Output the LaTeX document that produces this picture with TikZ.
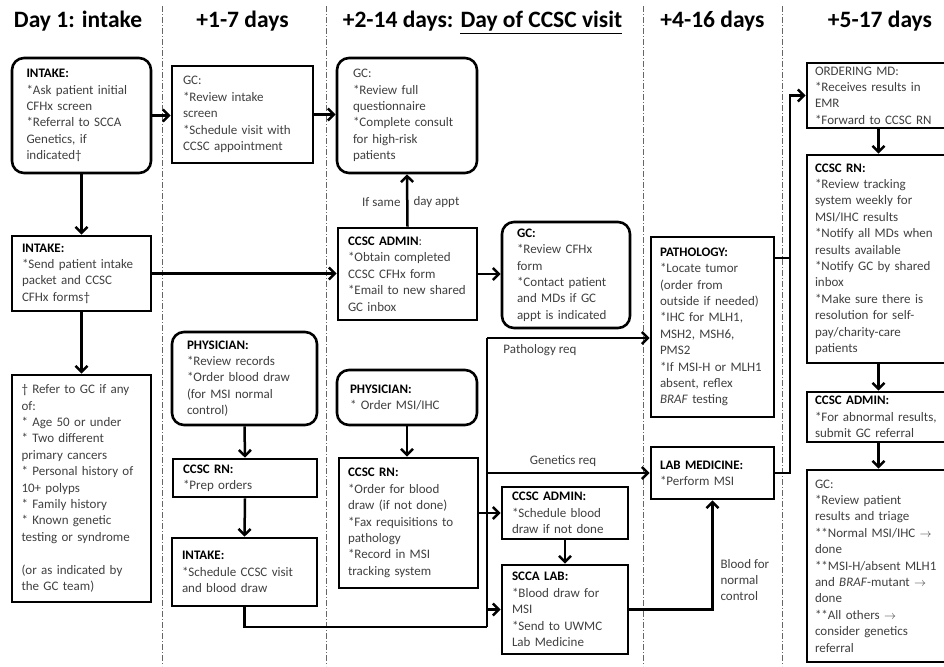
\documentclass[tikz,border=0pt]{standalone}
\usepackage{fontspec}
\setmainfont{Carlito}
\usepackage{tikz}
\usetikzlibrary{arrows.meta}

\newcommand{\boxhead}[1]{\textcolor{black}{\textbf{#1}}}
\newcommand{\toarr}{\ensuremath{\rightarrow}}

\begin{document}
\begin{tikzpicture}[x=1pt,y=-1pt,
  txt/.style={font=\fontsize{13}{16.4}\selectfont, text=black!75},
  sbox/.style={txt, draw=black, line width=2.6pt, align=left, inner xsep=3pt, inner ysep=3pt},
  rbox/.style={sbox, rounded corners=12pt},
  conn/.style={line width=2.5pt, -{Straight Barb[length=6pt,width=12pt]}},
  wire/.style={line width=2.5pt},
  colsep/.style={black!60, line width=0.8pt, dash pattern=on 6pt off 2pt on 1pt off 2pt},
  ttl/.style={font=\fontsize{23.5}{27}\selectfont\bfseries, anchor=base}]
\fill[white] (0,0) rectangle (944,666);
\useasboundingbox (0,0) rectangle (944,666);

% columns
\foreach \sx in {162,326,643,782}
  \draw[colsep] (\sx,6) -- (\sx,666);
\node[ttl] (tDay) at (78,28) {Day 1: intake};
\node[ttl] (tOne) at (242.5,28) {+1-7 days};
\node[ttl] (tTwo) at (482.5,28) {+2-14 days: \underline{Day of CCSC visit}};
\node[ttl] (tFour) at (712.5,28) {+4-16 days};
\node[ttl] (tFive) at (880,28) {+5-17 days};

% day 1
\node[rbox, minimum width=139, minimum height=115, text width=110] (intakeA) at (81.5,115.5)
  {\boxhead{INTAKE:}\\{}*Ask patient initial\\CFHx screen\\{}*Referral to SCCA\\Genetics, if\\indicated\textdagger};
\node[sbox, minimum width=139, minimum height=75, text width=119] (intakeB) at (81.5,273.5)
  {\boxhead{INTAKE:}\\{}*Send patient intake\\packet and CCSC\\CFHx forms\textdagger};
\node[sbox, minimum width=139, minimum height=227, text width=120] (note) at (81.5,488.5)
  {\textdagger{} Refer to GC if any\\of:\\{}* Age 50 or under\\{}* Two different\\primary cancers\\{}* Personal history of\\10+ polyps\\{}* Family history\\{}* Known genetic\\testing or syndrome\\[16.4pt](or as indicated by\\the GC team)};

% +1-7 days
\node[sbox, minimum width=141, minimum height=97, text width=119] (gcA) at (242.5,114.5)
  {GC:\\{}*Review intake\\screen\\{}*Schedule visit with\\CCSC appointment};
\node[rbox, minimum width=145, minimum height=93, text width=115] (physA) at (244.5,378.5)
  {\boxhead{PHYSICIAN:}\\{}*Review records\\{}*Order blood draw\\(for MSI normal\\control)};
\node[sbox, minimum width=144, minimum height=38, text width=124] (rnA) at (245,478)
  {\boxhead{CCSC RN:}\\{}*Prep orders};
\node[sbox, minimum width=145, minimum height=68, text width=125] (intakeC) at (244.5,572)
  {\boxhead{INTAKE:}\\{}*Schedule CCSC visit\\and blood draw};

% +2-14 days
\node[rbox, minimum width=140, minimum height=115, text width=108] (gcB) at (407,115.5)
  {GC:\\{}*Review full\\questionnaire\\{}*Complete consult\\for high-risk\\patients};
\node[sbox, minimum width=139, minimum height=92, text width=119] (adminA) at (407.5,274)
  {\boxhead{CCSC ADMIN}:\\{}*Obtain completed\\CCSC CFHx form\\{}*Email to new shared\\GC inbox};
\node[rbox, minimum width=128, minimum height=106, text width=98] (gcC) at (566,275)
  {\boxhead{GC:}\\{}*Review CFHx\\form\\{}*Contact patient\\and MDs if GC\\appt is indicated};
\node[rbox, minimum width=140, minimum height=55, text width=114] (physB) at (407,397.5)
  {\boxhead{PHYSICIAN:}\\{}* Order MSI/IHC};
\node[sbox, minimum width=139, minimum height=130, text width=121] (rnB) at (408.5,523)
  {\boxhead{CCSC RN:}\\{}*Order for blood\\draw (if not done)\\{}*Fax requisitions to\\pathology\\{}*Record in MSI\\tracking system};
\node[sbox, minimum width=126, minimum height=52, text width=106] (adminB) at (565,513)
  {\boxhead{CCSC ADMIN:}\\{}*Schedule blood\\draw if not done};
\node[sbox, minimum width=126, minimum height=89, text width=106] (sccaA) at (565,609.5)
  {\boxhead{SCCA LAB:}\\{}*Blood draw for\\MSI\\{}*Send to UWMC\\Lab Medicine};

% +4-16 days
\node[sbox, minimum width=123, minimum height=180, text width=105] (path) at (712.5,327)
  {\boxhead{PATHOLOGY:}\\{}*Locate tumor\\(order from\\outside if needed)\\{}*IHC for MLH1,\\MSH2, MSH6,\\PMS2\\{}*If MSI-H or MLH1\\absent, reflex\\\textit{BRAF} testing};
\node[sbox, minimum width=123, minimum height=52, text width=105] (labmed) at (712.5,473)
  {\boxhead{LAB MEDICINE:}\\{}*Perform MSI};

% +5-17 days
\node[sbox, minimum width=143, minimum height=65, text width=127] (ordmd) at (878.5,95.5)
  {ORDERING MD:\\{}*Receives results in\\EMR\\{}*Forward to CCSC RN};
\node[sbox, minimum width=143, minimum height=208, text width=127] (rnC) at (878.5,259)
  {\boxhead{CCSC RN:}\\{}*Review tracking\\system weekly for\\MSI/IHC results\\{}*Notify all MDs when\\results available\\{}*Notify GC by shared\\inbox\\{}*Make sure there is\\resolution for self-\\pay/charity-care\\patients};
\node[sbox, minimum width=143, minimum height=50, text width=127] (adminC) at (878.5,417)
  {\boxhead{CCSC ADMIN:}\\{}*For abnormal results,\\submit GC referral};
\node[sbox, minimum width=143, minimum height=192, text width=127] (gcD) at (878.5,566)
  {GC:\\{}*Review patient\\results and triage\\{}**Normal MSI/IHC \toarr\\done\\{}**MSI-H/absent MLH1\\and \textit{BRAF}-mutant \toarr\\done\\{}**All others \toarr\\consider genetics\\referral};

% connectors
\draw[conn] (intakeA.east) -- (intakeA.east -| gcA.west);
\draw[conn] (gcA.east) -- (gcA.east -| gcB.west);
\draw[conn] (intakeA.south) -- (intakeB.north);
\draw[conn] (intakeB.south) -- (note.north);
\draw[conn] (intakeB.east) -- (intakeB.east -| adminA.west);
\draw[conn] (adminA.north) -- (gcB.south);
\node[txt, anchor=east] (sameL) at (404,202) {If same};
\node[txt, anchor=west] (sameR) at (410,202) {day appt};
\draw[conn] (adminA.east) -- (adminA.east -| gcC.west);
\draw[conn] (physA.south) -- (rnA.north);
\draw[conn] (rnA.south) -- (intakeC.north);
\draw[conn] (physB.south) -- (physB.south |- rnB.north);
\draw[conn] (adminB.south) -- (sccaA.north);

% requisition bus
\coordinate (busT) at (487,338);
\coordinate (busB) at (487,627);
\draw[wire] (busT) -- (busB);
\draw[conn] (busT) -- (busT -| path.west);
\node[txt] (pathreq) at (540,350) {Pathology req};
\draw[conn] (busT |- labmed.west) -- (labmed.west);
\node[txt] (genreq) at (563,461) {Genetics req};
\draw[conn] (rnB.east |- adminB.west) -- (adminB.west);
\draw[wire] (intakeC.south) |- (busB);
\draw[conn] (busT |- sccaA.west) -- (sccaA.west);
\draw[conn] (sccaA.east) -| (labmed.south);
\node[txt, anchor=west, align=left] (blood) at (717,580) {Blood for\\normal\\control};

% results bus
\coordinate (busR) at (790,258);
\draw[wire] (path.east |- busR) -- (busR);
\draw[conn] (labmed.east) -| (busR) |- (ordmd.west);
\draw[conn] (ordmd.south) -- (rnC.north);
\draw[conn] (rnC.south) -- (adminC.north);
\draw[conn] (adminC.south) -- (gcD.north);
\end{tikzpicture}
\end{document}
